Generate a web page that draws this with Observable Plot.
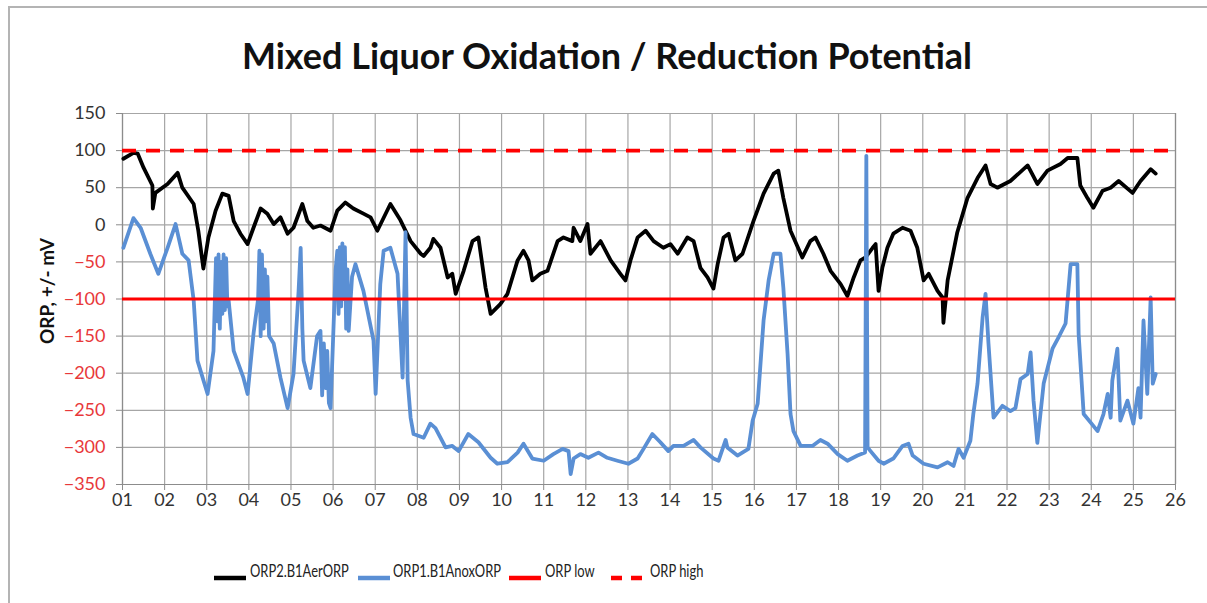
<!DOCTYPE html>
<html>
<head>
<meta charset="utf-8">
<script src="https://cdn.jsdelivr.net/npm/d3@7"></script>
<script src="https://cdn.jsdelivr.net/npm/@observablehq/plot@0.6"></script>
<style>
  html, body { margin: 0; padding: 0; background: #fff; }
  #frame { position: absolute; left: 8px; top: 6px; width: 1220px; height: 620px;
           border-left: 2px solid #b4b4b4; border-top: 2px solid #b4b4b4; }
  #title { position: absolute; left: 0; top: 33px; width: 1214px; text-align: center;
           font-family: Lato, "Noto Sans", sans-serif; font-weight: 700; font-size: 36px; color: #111; }
  #chart { position: absolute; left: 0; top: 100px; }
  #legend { position: absolute; left: 0; top: 559px; width: 1207px; height: 24px;
            font-family: Lato, "Noto Sans", sans-serif; font-size: 17px; color: #222; }
  .sw { position: absolute; top: 7px; }
  .lt { position: absolute; top: 0; line-height: 24px; white-space: nowrap;
        transform: scaleX(0.76); transform-origin: left center; }
  #ylabel { position: absolute; left: 46px; top: 291px; transform: translate(-50%, -50%) rotate(-90deg);
            font-family: Lato, "Noto Sans", sans-serif; font-weight: 700; font-size: 19px; color: #111; white-space: nowrap; }
</style>
</head>
<body>
<div id="frame"></div>
<div id="title">Mixed Liquor Oxidation / Reduction Potential</div>
<div id="chart"></div>
<div id="ylabel">ORP, +/- mV</div>
<div id="legend"></div>
<script>
// ---- data (day of month, mV) ----
const aerDay = [1.02,1.26,1.36,1.50,1.71,1.72,1.78,2.07,2.31,2.42,2.69,2.80,2.92,3.04,3.21,3.37,3.52,3.64,3.80,3.97,4.11,4.28,4.44,4.59,4.75,4.92,5.06,5.27,5.39,5.53,5.70,5.94,6.10,6.29,6.48,6.72,6.89,7.05,7.36,7.60,7.84,8.08,8.15,8.31,8.38,8.55,8.72,8.83,8.91,9.10,9.31,9.45,9.62,9.74,9.97,10.14,10.38,10.52,10.64,10.73,10.92,11.09,11.33,11.47,11.68,11.71,11.87,12.04,12.11,12.35,12.59,12.82,12.94,13.06,13.23,13.42,13.61,13.84,14.01,14.18,14.41,14.56,14.72,14.89,15.03,15.13,15.27,15.39,15.55,15.72,15.98,16.22,16.46,16.57,16.69,16.86,17.14,17.33,17.45,17.64,17.81,18.05,18.21,18.36,18.52,18.64,18.81,18.88,18.95,19.04,19.16,19.30,19.52,19.71,19.87,20.02,20.14,20.35,20.47,20.49,20.59,20.82,21.06,21.30,21.49,21.61,21.77,22.08,22.49,22.72,22.96,23.27,23.44,23.67,23.74,23.91,24.05,24.27,24.46,24.65,24.98,25.17,25.41,25.53];
const aerORP = [89,97,96,77,53,22,43,55,70,50,28,-8,-59,-17,19,42,39,5,-12,-26,-4,22,15,1,10,-12,-4,28,5,-4,-1,-8,19,30,22,15,10,-8,28,6,-22,-39,-42,-31,-19,-31,-71,-66,-93,-62,-22,-17,-85,-120,-107,-93,-48,-35,-48,-75,-66,-62,-22,-17,-22,-4,-22,1,-39,-22,-48,-66,-75,-48,-17,-8,-22,-31,-26,-39,-17,-22,-58,-71,-86,-53,-17,-12,-48,-39,5,42,69,73,36,-8,-44,-22,-17,-39,-62,-80,-96,-71,-48,-44,-31,-26,-89,-58,-31,-12,-4,-8,-31,-75,-66,-89,-98,-132,-75,-10,36,63,80,55,50,59,80,55,73,82,90,90,53,36,23,46,50,59,43,59,75,69];

const anoxDay = [1.02,1.26,1.43,1.66,1.85,2.07,2.26,2.42,2.57,2.69,2.78,3.02,3.16,3.22,3.25,3.28,3.31,3.34,3.37,3.40,3.43,3.46,3.49,3.52,3.64,3.87,3.97,4.11,4.22,4.25,4.28,4.31,4.35,4.38,4.41,4.44,4.48,4.59,4.75,4.92,5.06,5.18,5.23,5.27,5.30,5.46,5.62,5.70,5.74,5.78,5.82,5.86,5.90,5.94,6.06,6.10,6.13,6.16,6.19,6.22,6.25,6.28,6.31,6.34,6.37,6.45,6.53,6.72,6.96,7.01,7.12,7.20,7.36,7.53,7.65,7.72,7.77,7.84,7.91,8.15,8.31,8.43,8.67,8.83,8.98,9.21,9.45,9.74,9.90,10.14,10.38,10.52,10.73,11.00,11.23,11.45,11.59,11.64,11.71,11.87,12.06,12.30,12.51,12.75,13.01,13.23,13.37,13.58,13.77,13.96,14.08,14.32,14.56,14.72,15.03,15.15,15.32,15.36,15.60,15.86,15.96,16.08,16.22,16.34,16.46,16.62,16.69,16.79,16.86,16.93,17.10,17.38,17.57,17.74,17.98,18.21,18.45,18.63,18.66,18.69,18.76,18.95,19.07,19.30,19.52,19.66,19.76,20.02,20.35,20.59,20.73,20.85,20.97,21.13,21.20,21.30,21.42,21.49,21.56,21.68,21.89,22.08,22.20,22.32,22.49,22.56,22.63,22.72,22.87,23.08,23.22,23.39,23.51,23.67,23.70,23.82,24.05,24.15,24.29,24.39,24.46,24.50,24.62,24.69,24.86,25.00,25.12,25.17,25.24,25.33,25.41,25.46,25.53];
const anoxORP = [-31,9,-4,-39,-66,-31,1,-39,-48,-102,-183,-228,-170,-45,-130,-40,-140,-50,-120,-40,-115,-45,-110,-102,-170,-206,-228,-147,-100,-35,-150,-40,-140,-60,-130,-70,-150,-160,-206,-247,-201,-90,-31,-140,-183,-220,-150,-143,-230,-160,-220,-170,-240,-247,-60,-35,-120,-30,-110,-25,-100,-30,-140,-60,-143,-70,-53,-89,-156,-228,-80,-35,-31,-66,-206,-10,-210,-260,-282,-287,-268,-274,-300,-298,-305,-282,-293,-314,-322,-320,-307,-295,-315,-318,-309,-302,-305,-336,-315,-309,-314,-307,-314,-318,-322,-315,-302,-282,-293,-305,-298,-298,-290,-300,-315,-318,-290,-300,-311,-302,-264,-241,-129,-75,-39,-39,-85,-174,-255,-278,-298,-298,-290,-295,-309,-318,-311,-307,93,-300,-305,-318,-322,-315,-298,-295,-311,-322,-327,-320,-325,-302,-314,-291,-255,-214,-125,-93,-160,-260,-244,-251,-247,-208,-201,-172,-237,-294,-214,-167,-152,-133,-53,-53,-147,-255,-271,-278,-255,-228,-260,-210,-167,-264,-237,-268,-220,-260,-129,-228,-98,-214,-201];

const orpLow = -100;
const orpHigh = 100;

const xTicks = d3.range(1, 27);
const xTickLabels = xTicks.map(d => String(d).padStart(2, "0"));
const yTicks = d3.range(-350, 151, 50);

const seriesNames = ["ORP2.B1AerORP", "ORP1.B1AnoxORP", "ORP low", "ORP high"];
const seriesColors = ["#000000", "#5a8fd4", "#ff0000", "#ff0000"];

const aer = aerDay.map((d, i) => ({day: d, orp: aerORP[i]}));
const anox = anoxDay.map((d, i) => ({day: d, orp: anoxORP[i]}));

const font = "Lato, 'Noto Sans', sans-serif";

const chart = Plot.plot({
  width: 1207,
  height: 414,
  marginLeft: 122,
  marginRight: 32,
  marginTop: 13,
  marginBottom: 30,
  style: {fontFamily: font, background: "transparent", overflow: "visible"},
  x: {domain: [1, 26]},
  y: {domain: [-350, 150]},
  marks: [
    Plot.gridX(xTicks, {stroke: "#a6a6a6", strokeOpacity: 1, strokeWidth: 1.2}),
    Plot.gridY(yTicks, {stroke: "#a6a6a6", strokeOpacity: 1, strokeWidth: 1.2}),
    Plot.ruleX([1], {stroke: "#8c8c8c", strokeWidth: 1.2}),
    Plot.ruleX([26], {stroke: "#8c8c8c", strokeWidth: 1.2}),
    Plot.ruleY([-350], {stroke: "#8c8c8c", strokeWidth: 1.2}),
    Plot.axisX(xTicks, {tickFormat: (d, i) => xTickLabels[i], tickSize: 6, tickPadding: 3, fontSize: 18, stroke: "#8c8c8c", fill: "#333", label: null}),
    Plot.axisY(yTicks.filter(v => v >= 0), {tickSize: 6, tickPadding: 11, fontSize: 18, stroke: "#8c8c8c", fill: "#333", label: null}),
    Plot.axisY(yTicks.filter(v => v < 0), {tickSize: 6, tickPadding: 11, fontSize: 18, stroke: "#8c8c8c", fill: "#e8383a", label: null}),
    Plot.line(aer, {x: "day", y: "orp", stroke: seriesColors[0], strokeWidth: 3.8, strokeLinejoin: "round"}),
    Plot.line(anox, {x: "day", y: "orp", stroke: seriesColors[1], strokeWidth: 3.8, strokeLinejoin: "round"}),
    Plot.ruleY([orpLow], {x1: 1, x2: 26, stroke: seriesColors[2], strokeWidth: 3.2}),
    Plot.ruleY([orpHigh], {x1: 1, x2: 26, stroke: seriesColors[3], strokeWidth: 3.6, strokeDasharray: "14,10"})
  ]
});
document.getElementById("chart").appendChild(chart);

// legend
const legend = document.getElementById("legend");
const swLefts = [213, 357, 508, 610];
const txtLefts = [250, 393, 545, 650];
seriesNames.forEach((name, i) => {
  const dash = i === 3 ? 'stroke-dasharray="11,9"' : "";
  const sw = document.createElement("div");
  sw.className = "sw";
  sw.style.left = swLefts[i] + "px";
  sw.innerHTML = `<svg width="34" height="10"><line x1="1" y1="5" x2="33" y2="5" stroke="${seriesColors[i]}" stroke-width="4.5" ${dash}/></svg>`;
  legend.appendChild(sw);
  const t = document.createElement("div");
  t.className = "lt";
  t.style.left = txtLefts[i] + "px";
  t.textContent = name;
  legend.appendChild(t);
});
</script>
</body>
</html>
